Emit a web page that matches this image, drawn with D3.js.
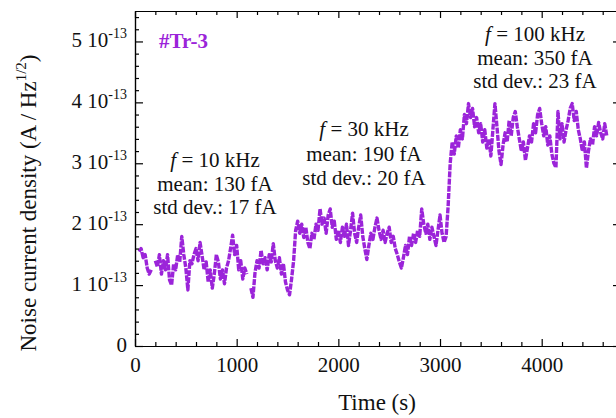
<!DOCTYPE html>
<html>
<head>
<meta charset="utf-8">
<script src="https://cdn.jsdelivr.net/npm/d3@7"></script>
<style>
  html, body { margin: 0; padding: 0; background: #fff; }
  svg { display: block; }
  text { font-family: "Liberation Serif", "Times New Roman", serif; fill: #111; }
</style>
</head>
<body>
<svg id="chart" width="616" height="418"></svg>
<script>
// ---- data (noise current density in fA/sqrt(Hz), sampled every 20 s from t = 40 s) ----
const sampleStart = 40;
const sampleStep = 20;
const noiseFA = [
  155,160,145,150,128,118,125,null,140,130,   // 40-220
  150,118,140,125,150,108,100,135,125,150,    // 240-420
  138,180,150,128,92,140,135,150,160,140,     // 440-620
  170,148,125,138,105,125,95,118,150,138,     // 640-820
  110,125,102,128,140,160,182,150,165,125,    // 840-1020
  140,110,128,118,null,95,80,120,140,128,     // 1040-1220
  157,135,145,125,150,138,168,140,128,145,    // 1240-1420
  118,135,105,92,84,110,140,190,205,185,      // 1440-1620
  200,178,195,170,160,185,175,200,190,225,    // 1640-1820
  200,210,185,215,225,195,205,175,190,170,    // 1840-2020
  195,180,200,165,190,218,185,170,195,215,    // 2040-2220
  180,160,142,165,185,175,195,210,190,175,    // 2240-2420
  190,170,185,195,170,180,160,150,138,128,    // 2440-2620
  145,165,150,180,165,185,170,190,180,225,    // 2640-2820
  200,185,200,175,195,180,165,190,215,185,    // 2840-3020
  170,180,230,300,335,315,345,325,355,340,    // 3040-3220
  380,365,398,375,390,360,375,350,365,335,    // 3240-3420
  355,325,340,312,355,398,360,320,298,330,    // 3440-3620
  350,335,370,345,375,385,360,340,320,335,    // 3640-3820
  305,325,345,335,365,350,380,390,365,345,    // 3840-4020
  360,330,345,315,300,293,385,340,365,335,    // 4040-4220
  355,370,390,398,370,385,355,340,320,335,    // 4240-4420
  292,320,340,330,360,345,367,350,340,365,    // 4440-4620
  345                                         // 4640
];

const xMajorTicks = [0, 1000, 2000, 3000, 4000];
const yMajorTicks = [0, 1, 2, 3, 4, 5];          // multiples of 1e-13
const annotations = [
  { f: "10 kHz",  mean: "130 fA", sd: "17 fA" },
  { f: "30 kHz",  mean: "190 fA", sd: "20 fA" },
  { f: "100 kHz", mean: "350 fA", sd: "23 fA" }
];
const sampleLabel = "#Tr-3";

// ---- layout ----
const purple = "#9b24d9";
const L = 135, R = 621, T = 11, B = 346;
const svg = d3.select("#chart");

const x = d3.scaleLinear().domain([0, 4780]).range([L, R]);
const y = d3.scaleLinear().domain([0, 5.5e-13]).range([B, T]);

const data = noiseFA.map((v, i) => ({ t: sampleStart + i * sampleStep, v: v }));

// ---- data line ----
const line = d3.line()
  .defined(d => d.v != null)
  .x(d => x(d.t))
  .y(d => y(d.v * 1e-15));

svg.append("path")
  .datum(data)
  .attr("fill", "none")
  .attr("stroke", purple)
  .attr("stroke-width", 3.4)
  .attr("stroke-dasharray", "6,1.2")
  .attr("stroke-linejoin", "round")
  .attr("d", line);

// ---- axes ----
const xMinor = d3.range(0, 4780, 200).filter(v => v % 1000 !== 0);
const yMinor = d3.range(0, 5.5001, 0.2).map(v => +v.toFixed(1)).filter(v => Math.abs(v - Math.round(v)) > 1e-6).map(v => v * 1e-13);
const yMajor = yMajorTicks.map(v => v * 1e-13);

function styleAxis(g) {
  g.selectAll("path.domain").attr("stroke", "#000").attr("stroke-width", 1.2);
  g.selectAll(".tick line").attr("stroke", "#000").attr("stroke-width", 1.2);
}

// bottom
const gB = svg.append("g").attr("transform", `translate(0,${B})`)
  .call(d3.axisBottom(x).tickValues(xMajorTicks).tickSizeInner(-7).tickSizeOuter(0).tickFormat(d3.format("d")));
styleAxis(gB);
gB.selectAll(".tick text").attr("y", 26).attr("dy", 0).attr("font-size", 21)
  .attr("font-family", '"Liberation Serif", "Times New Roman", serif').attr("fill", "#111");
const gBm = svg.append("g").attr("transform", `translate(0,${B})`)
  .call(d3.axisBottom(x).tickValues(xMinor).tickSizeInner(-4).tickSizeOuter(0).tickFormat(""));
styleAxis(gBm);

// top
const gT = svg.append("g").attr("transform", `translate(0,${T})`)
  .call(d3.axisTop(x).tickValues(xMajorTicks).tickSizeInner(-7).tickSizeOuter(0).tickFormat(""));
styleAxis(gT);
const gTm = svg.append("g").attr("transform", `translate(0,${T})`)
  .call(d3.axisTop(x).tickValues(xMinor).tickSizeInner(-4).tickSizeOuter(0).tickFormat(""));
styleAxis(gTm);

// left
const gL = svg.append("g").attr("transform", `translate(${L},0)`)
  .call(d3.axisLeft(y).tickValues(yMajor).tickSizeInner(-8).tickSizeOuter(0).tickFormat(""));
styleAxis(gL);
const gLm = svg.append("g").attr("transform", `translate(${L},0)`)
  .call(d3.axisLeft(y).tickValues(yMinor).tickSizeInner(-4).tickSizeOuter(0).tickFormat(""));
styleAxis(gLm);

// right
const gR = svg.append("g").attr("transform", `translate(${R},0)`)
  .call(d3.axisRight(y).tickValues(yMajor).tickSizeInner(-8).tickSizeOuter(0).tickFormat(""));
styleAxis(gR);
const gRm = svg.append("g").attr("transform", `translate(${R},0)`)
  .call(d3.axisRight(y).tickValues(yMinor).tickSizeInner(-4).tickSizeOuter(0).tickFormat(""));
styleAxis(gRm);

// y tick labels with superscripts
const yLab = svg.append("g");
yMajorTicks.forEach(k => {
  const t = yLab.append("text")
    .attr("x", 127).attr("y", y(k * 1e-13) + 6)
    .attr("text-anchor", "end").attr("font-size", 21)
    .attr("xml:space", "preserve");
  if (k === 0) {
    t.text("0");
  } else {
    t.append("tspan").text(k + " 10");
    t.append("tspan").attr("font-size", 14).attr("dy", -9).text("-13");
  }
});

// axis titles
svg.append("text")
  .attr("x", 377).attr("y", 410)
  .attr("text-anchor", "middle").attr("font-size", 23)
  .text("Time (s)");

const yt = svg.append("text")
  .attr("transform", "translate(36,203) rotate(-90)")
  .attr("text-anchor", "middle").attr("font-size", 23);
yt.append("tspan").text("Noise current density (A / Hz");
yt.append("tspan").attr("font-size", 15).attr("dy", -10).text("1/2");
yt.append("tspan").attr("dy", 10).text(")");

// sample label
svg.append("text")
  .attr("x", 159).attr("y", 48)
  .attr("font-size", 21).attr("font-weight", "bold")
  .style("fill", purple)
  .text(sampleLabel);

// annotation blocks
const blockPos = [
  { cx: 215, y0: 167, gap: 23.5 },
  { cx: 364, y0: 136, gap: 24.5 },
  { cx: 535, y0: 41,  gap: 23.5 }
];
annotations.forEach((a, i) => {
  const p = blockPos[i];
  const g = svg.append("g").attr("font-size", 21).attr("text-anchor", "middle");
  const t1 = g.append("text").attr("x", p.cx).attr("y", p.y0).attr("xml:space", "preserve");
  t1.append("tspan").attr("font-style", "italic").text("f");
  t1.append("tspan").text(" = " + a.f);
  g.append("text").attr("x", p.cx).attr("y", p.y0 + p.gap).text("mean: " + a.mean);
  g.append("text").attr("x", p.cx).attr("y", p.y0 + 2 * p.gap).text("std dev.: " + a.sd);
});
</script>
</body>
</html>
